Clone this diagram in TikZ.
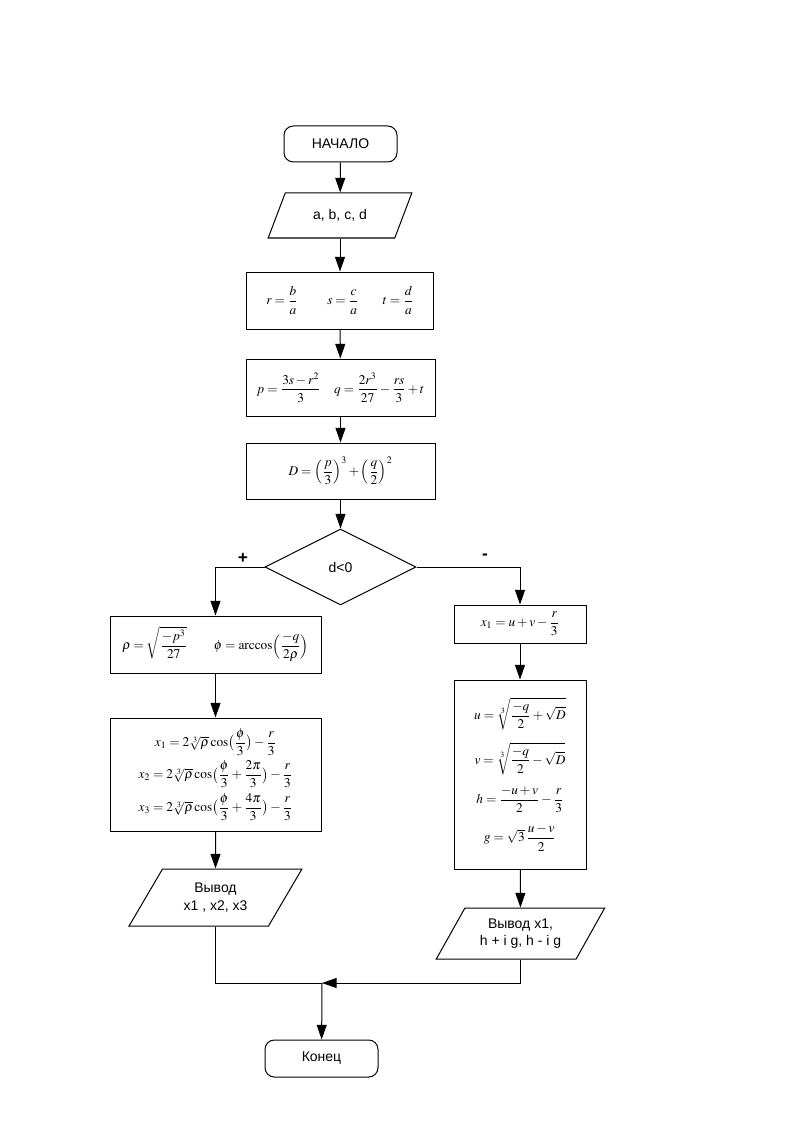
\documentclass[tikz,border=0pt]{standalone}
\usepackage{amsmath}
\usepackage{mathptmx}
\usepackage{fontspec}
\setmainfont{Liberation Sans}
\usetikzlibrary{shapes.geometric,arrows.meta}
\newcommand\pxu{0.75pt}
\tikzset{
  every node/.style={font=\fontsize{10.5}{13}\selectfont},
  box/.style={draw,line width=0.75pt,inner sep=0pt,align=center},
  term/.style={box,rounded corners=7pt},
  io/.style={draw,line width=0.75pt,trapezium,trapezium left angle=55,trapezium right angle=125,trapezium stretches=true,inner sep=0pt,align=center},
  dec/.style={draw,line width=0.75pt,diamond,inner sep=0pt,align=center},
  flow/.style={line width=0.75pt,-{Triangle[length=11pt,width=7.5pt]}},
  link/.style={line width=0.75pt},
  sign/.style={font=\fontsize{13}{13}\bfseries}
}
\newcommand\fm[1]{\fontsize{10}{12}\selectfont$\displaystyle #1$}
\begin{document}
\begin{tikzpicture}[x=0.75pt,y=-0.75pt]
\useasboundingbox (0,0) rectangle (794,1123);
\node[term,minimum width=113*\pxu,minimum height=36*\pxu] (start) at (340.5,144) {НАЧАЛО};
\node[io,minimum width=144*\pxu,minimum height=45*\pxu] (in) at (340,215.5) {a, b, c, d};
\node[box,minimum width=187*\pxu,minimum height=57*\pxu] (b1) at (340,300.5) {\fm{r=\frac{b}{a}}\hspace{22pt}\fm{s=\frac{c}{a}}\hspace{18pt}\fm{t=\frac{d}{a}}};
\node[box,minimum width=189*\pxu,minimum height=57*\pxu] (b2) at (340.5,387.5) {\fm{p=\frac{3s-r^2}{3}\quad q=\frac{2r^3}{27}-\frac{rs}{3}+t}};
\node[box,minimum width=189*\pxu,minimum height=56*\pxu] (b3) at (340.5,471) {\fm{D=\Bigl(\frac{p}{3}\Bigr)^3+\Bigl(\frac{q}{2}\Bigr)^2}};
\node[dec,minimum width=151*\pxu,minimum height=76*\pxu] (dia) at (340.5,567) {d<0};
\node[sign] (plus) at (243,558) {+};
\node[sign] (minus) at (485,557) {-};
\node[box,minimum width=211*\pxu,minimum height=57*\pxu] (rho) at (215.5,644.5) {\fm{\rho=\sqrt{\frac{-p^3}{27}}}\hspace{20pt}\fm{\phi=\arccos\Bigl(\frac{-q}{2\rho}\Bigr)}};
\node[box,minimum width=211*\pxu,minimum height=113*\pxu] (xb) at (215.5,774.5) {%
\fm{x_1=2\sqrt[3]{\rho}\cos\bigl(\frac{\phi}{3}\bigr)-\frac{r}{3}}\\[3pt]
\fm{x_2=2\sqrt[3]{\rho}\cos\bigl(\frac{\phi}{3}+\frac{2\pi}{3}\bigr)-\frac{r}{3}}\\[3pt]
\fm{x_3=2\sqrt[3]{\rho}\cos\bigl(\frac{\phi}{3}+\frac{4\pi}{3}\bigr)-\frac{r}{3}}};
\node[io,minimum width=173*\pxu,minimum height=57*\pxu] (outL) at (215.5,897.5) {Вывод\\x1 , x2, x3};
\node[box,minimum width=132*\pxu,minimum height=38*\pxu] (x1r) at (520,624) {\fm{x_1=u+v-\frac{r}{3}}};
\node[box,minimum width=132*\pxu,minimum height=189*\pxu] (uv) at (520,774.5) {%
\fm{u=\sqrt[3]{\frac{-q}{2}+\sqrt{D}}}\\[8pt]
\fm{v=\sqrt[3]{\frac{-q}{2}-\sqrt{D}}}\\[8pt]
\fm{h=\frac{-u+v}{2}-\frac{r}{3}}\\[8pt]
\fm{g=\sqrt{3}\,\frac{u-v}{2}}};
\node[io,minimum width=169*\pxu,minimum height=51*\pxu] (outR) at (520.5,933.5) {Вывод x1,\\h + i g, h - i g};
\node[term,minimum width=113*\pxu,minimum height=37*\pxu] (stop) at (321.5,1058.5) {Конец};
\coordinate (m) at (322,983);
\draw[flow] (start) -- (in);
\draw[flow] (in) -- (b1);
\draw[flow] (b1) -- (b2);
\draw[flow] (b2) -- (b3);
\draw[flow] (b3) -- (dia);
\draw[flow] (dia.west) -| (rho.north);
\draw[flow] (dia.east) -| (x1r.north);
\draw[flow] (rho) -- (xb);
\draw[flow] (xb) -- (outL);
\draw[flow] (x1r) -- (uv);
\draw[flow] (uv) -- (outR);
\draw[link] (outL.south) |- (m);
\draw[flow] (outR.south) |- (m);
\draw[flow] (m) -- (stop);
\end{tikzpicture}
\end{document}
